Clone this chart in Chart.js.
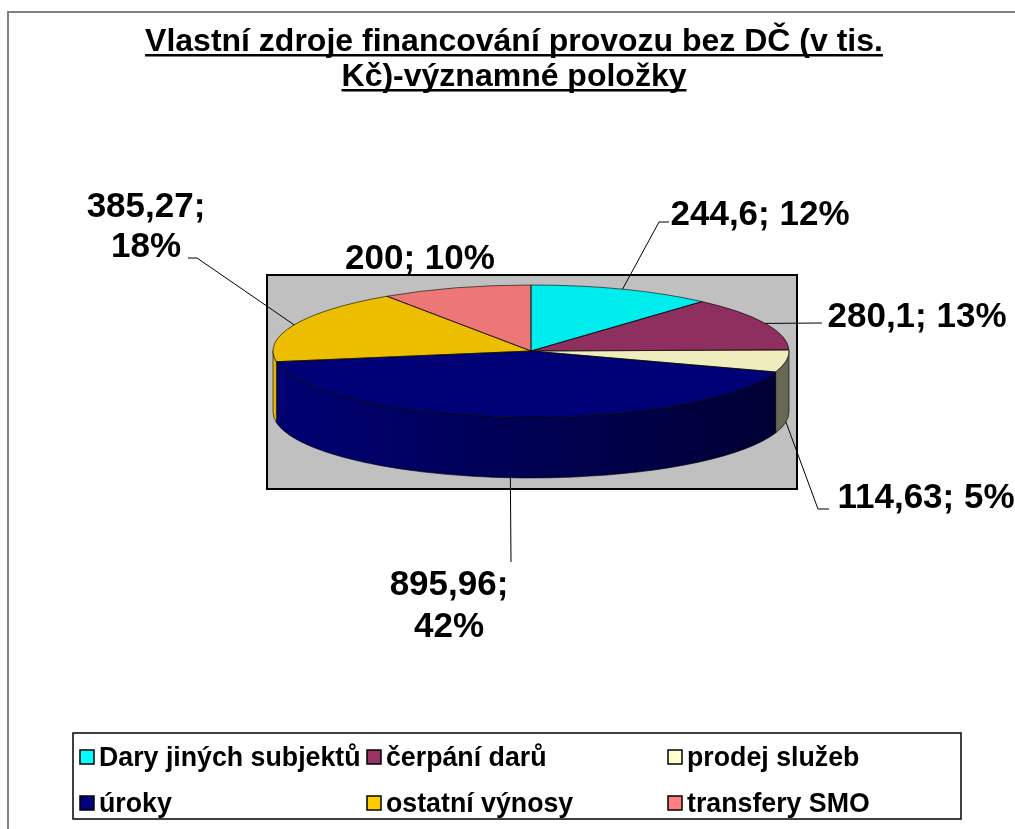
<!DOCTYPE html>
<html>
<head>
<meta charset="utf-8">
<script src="https://cdn.jsdelivr.net/npm/chart.js@4.4.1/dist/chart.umd.min.js"></script>
<style>
  html, body { margin: 0; padding: 0; background: #fff; }
  canvas { display: block; }
</style>
</head>
<body>
<canvas id="pieChart" width="1015" height="829"></canvas>
<script>
// data
var categories = ['Dary jiných subjektů', 'čerpání darů', 'prodej služeb', 'úroky', 'ostatní výnosy', 'transfery SMO'];
var values = [244.6, 280.1, 114.63, 895.96, 385.27, 200];
var percents = [12, 13, 5, 42, 18, 10];
var titleLines = ['Vlastní zdroje financování provozu bez DČ (v tis.', 'Kč)-významné položky'];

// styles
var baseColors = ['#00FFFF', '#993366', '#FFFFCC', '#000080', '#FFCC00', '#FF8080'];
var FONT = '"Liberation Sans", Arial, sans-serif';

// 3d look of the pie
var topY = 351, ry = 66, depth = 61;

// where the labels sit (text center x, baselines) and the bends of leader lines
var labelLayout = [
    { x: 760, y: [225], leader: [[659, 222], [669, 222]] },
    { x: 917, y: [327], leader: [[822, 323]] },
    { x: 926, y: [508], leader: [[818, 509], [829, 509]] },
    { x: 449, y: [595, 637], leader: [[511, 562]] },
    { x: 146, y: [217, 257], leader: [[197, 258], [188, 258]] },
    { x: 420, y: [269], leader: [] }
];

function rgb(hex) {
    return [parseInt(hex.substr(1, 2), 16), parseInt(hex.substr(3, 2), 16), parseInt(hex.substr(5, 2), 16)];
}
function shade(hex, f) {
    var c = rgb(hex);
    return 'rgb(' + Math.round(c[0] * f) + ',' + Math.round(c[1] * f) + ',' + Math.round(c[2] * f) + ')';
}
function numText(v) {
    return String(v).replace('.', ',');
}

var pie3d = {
    id: 'pie3d',
    beforeDraw: function (chart) {
        var ctx = chart.ctx;
        ctx.save();
        ctx.fillStyle = '#fff';
        ctx.fillRect(0, 0, chart.width, chart.height);
        // outer chart frame
        ctx.strokeStyle = '#808080';
        ctx.lineWidth = 2;
        ctx.strokeRect(8, 12, 1100, 900);
        // plot area
        ctx.fillStyle = '#C0C0C0';
        ctx.fillRect(267, 275, 530, 214);
        ctx.strokeStyle = '#000';
        ctx.lineWidth = 2;
        ctx.strokeRect(267, 275, 530, 214);
        ctx.restore();
    },
    beforeDatasetsDraw: function (chart) {
        var ctx = chart.ctx;
        var arcs = chart.getDatasetMeta(0).data;
        var cx = arcs[0].x, cy = arcs[0].y, rx = arcs[0].outerRadius;

        // side walls (front half only)
        ctx.save();
        ctx.strokeStyle = 'rgba(0,0,0,0.6)';
        ctx.lineWidth = 1;
        arcs.forEach(function (arc, i) {
            var a1 = Math.max(arc.startAngle, 0), a2 = Math.min(arc.endAngle, Math.PI);
            if (a2 <= a1) return;
            var grad = ctx.createLinearGradient(cx - rx, 0, cx + rx, 0);
            grad.addColorStop(0, shade(baseColors[i], 0.9));
            grad.addColorStop(1, shade(baseColors[i], 0.4));
            ctx.beginPath();
            ctx.ellipse(cx, topY, rx, ry, 0, a1, a2);
            ctx.lineTo(cx + rx * Math.cos(a2), topY + ry * Math.sin(a2) + depth);
            ctx.ellipse(cx, topY + depth, rx, ry, 0, a2, a1, true);
            ctx.closePath();
            ctx.fillStyle = grad;
            ctx.fill();
            ctx.stroke();
        });
        ctx.restore();

        // squash the library's pie into the top face
        ctx.save();
        ctx.translate(0, topY);
        ctx.scale(1, ry / rx);
        ctx.translate(0, -cy);
    },
    afterDatasetsDraw: function (chart) {
        var ctx = chart.ctx;
        ctx.restore();
        var arcs = chart.getDatasetMeta(0).data;
        var cx = arcs[0].x, rx = arcs[0].outerRadius;

        // outlines of the top face
        ctx.save();
        ctx.strokeStyle = 'rgba(0,0,0,0.6)';
        ctx.lineWidth = 1;
        arcs.forEach(function (arc) {
            ctx.beginPath();
            ctx.moveTo(cx, topY);
            ctx.lineTo(cx + rx * Math.cos(arc.startAngle), topY + ry * Math.sin(arc.startAngle));
            ctx.ellipse(cx, topY, rx, ry, 0, arc.startAngle, arc.endAngle);
            ctx.closePath();
            ctx.stroke();
        });
        ctx.restore();

        // data labels and leader lines
        ctx.save();
        ctx.font = 'bold 35px ' + FONT;
        ctx.textAlign = 'center';
        ctx.textBaseline = 'alphabetic';
        ctx.fillStyle = '#000';
        ctx.strokeStyle = '#000';
        ctx.lineWidth = 1;
        arcs.forEach(function (arc, i) {
            var lay = labelLayout[i];
            var mid = (arc.startAngle + arc.endAngle) / 2;
            var sx = cx + rx * Math.cos(mid);
            var sy = topY + ry * Math.sin(mid) + (Math.sin(mid) > 0 ? depth : 0);
            if (lay.leader.length) {
                ctx.beginPath();
                ctx.moveTo(sx, sy);
                lay.leader.forEach(function (p) { ctx.lineTo(p[0], p[1]); });
                ctx.stroke();
            }
            var a = numText(values[i]) + ';';
            var b = percents[i] + '%';
            if (lay.y.length === 2) {
                ctx.fillText(a, lay.x, lay.y[0]);
                ctx.fillText(b, lay.x, lay.y[1]);
            } else {
                ctx.fillText(a + ' ' + b, lay.x, lay.y[0]);
            }
        });
        ctx.restore();
    },
    afterDraw: function (chart) {
        var ctx = chart.ctx;
        ctx.save();

        // title, bold + underlined
        ctx.font = 'bold 32px ' + FONT;
        ctx.textAlign = 'center';
        ctx.textBaseline = 'alphabetic';
        ctx.fillStyle = '#000';
        var tb = [51, 86];
        titleLines.forEach(function (t, k) {
            ctx.fillText(t, 514, tb[k]);
            var w = ctx.measureText(t).width;
            ctx.fillRect(514 - w / 2, tb[k] + 3, w, 2.5);
        });

        // legend
        ctx.strokeStyle = '#000';
        ctx.lineWidth = 1.5;
        ctx.strokeRect(73, 733, 888, 86);
        var colX = [80, 367, 668], rowY = [757, 803];
        ctx.font = 'bold 28px ' + FONT;
        ctx.textAlign = 'left';
        ctx.textBaseline = 'middle';
        categories.forEach(function (name, i) {
            var x = colX[i % 3], y = rowY[Math.floor(i / 3)];
            ctx.fillStyle = baseColors[i];
            ctx.fillRect(x, y - 7, 14, 14);
            ctx.strokeRect(x, y - 7, 14, 14);
            ctx.fillStyle = '#000';
            ctx.save();
            ctx.translate(x + 19, y + 1);
            ctx.scale(0.955, 1);
            ctx.fillText(name, 0, 0);
            ctx.restore();
        });
        ctx.restore();
    }
};

var topColors = baseColors.map(function (c) { return shade(c, 0.93); });

var ctx = document.getElementById('pieChart').getContext('2d');
var myPieChart = new Chart(ctx, {
    type: 'pie',
    data: {
        labels: categories,
        datasets: [{
            data: values,
            backgroundColor: topColors,
            borderWidth: 0,
            clip: false
        }]
    },
    options: {
        responsive: false,
        animation: false,
        devicePixelRatio: 1,
        events: [],
        layout: {
            padding: { left: 273, right: 226, top: 100, bottom: 213 }
        },
        plugins: {
            legend: { display: false },
            tooltip: { enabled: false }
        }
    },
    plugins: [pie3d]
});
</script>
</body>
</html>
